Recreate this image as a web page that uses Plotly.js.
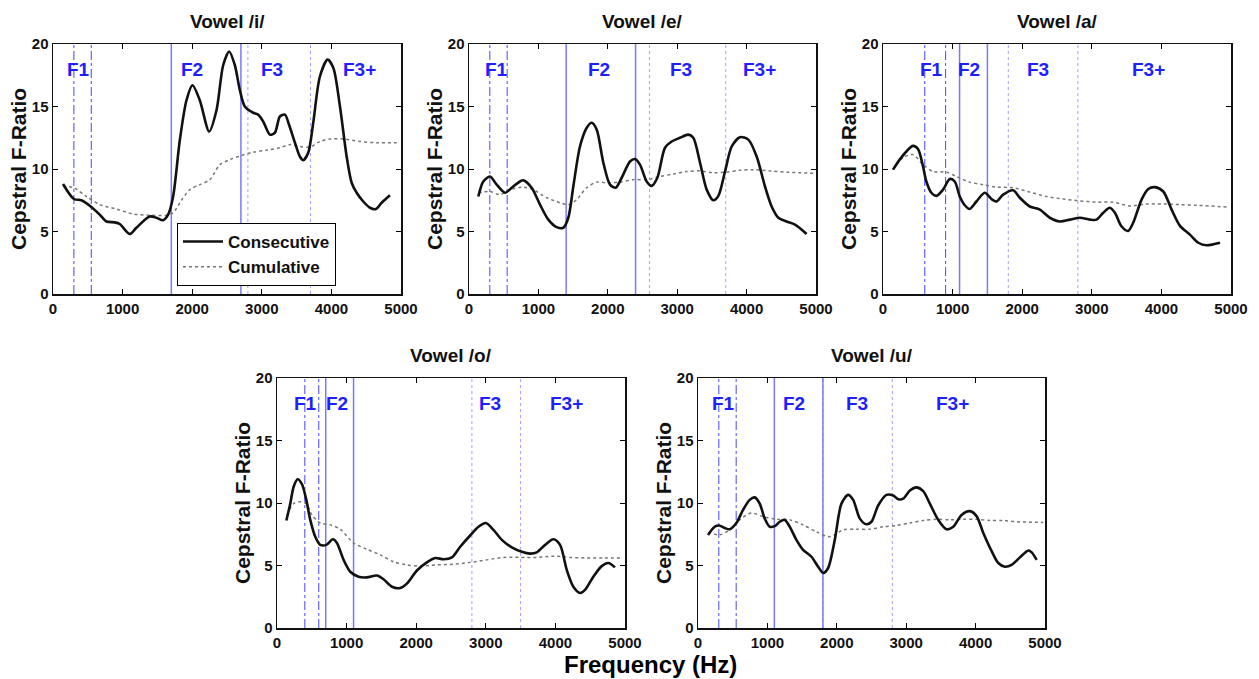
<!DOCTYPE html>
<html>
<head>
<meta charset="utf-8">
<script src="https://cdn.plot.ly/plotly-3.0.1.min.js"></script>
<style>html,body{margin:0;padding:0;background:#fff;}#chart{width:1259px;height:679px;}</style>
</head>
<body>
<div id="chart"></div>
<script>
// ---------- data ----------
const vowels = ["Vowel /i/", "Vowel /e/", "Vowel /a/", "Vowel /o/", "Vowel /u/"];
const bandLabels = ["F1", "F2", "F3", "F3+"];

// Vowel /i/
const iConsFreq = [144,300,407,542,671,767,887,959,1103,1198,1390,1486,1582,1654,1726,1822,1918,2004,2109,2244,2349,2445,2531,2613,2685,2756,2876,2948,3020,3116,3188,3260,3332,3394,3476,3547,3595,3667,3739,3835,3945,4027,4123,4219,4291,4363,4458,4554,4640,4722,4842];
const iConsRatio = [8.8,7.6,7.5,7.0,6.35,5.8,5.73,5.6,4.8,5.3,6.2,6.1,5.9,6.35,7.8,12.3,15.5,16.7,15.5,13.0,14.7,18.3,19.4,18.3,16.3,15.0,14.5,14.35,13.8,12.75,12.9,14.2,14.35,13.5,12.1,11.0,10.7,11.3,13.7,17.4,18.75,18.1,15.0,11.0,8.9,8.1,7.4,6.9,6.8,7.3,7.9];
const iCumFreq = [144,300,479,671,911,1151,1390,1630,1726,1846,1966,2109,2253,2397,2541,2685,2876,3068,3260,3404,3547,3691,3835,3979,4171,4410,4650,4938];
const iCumRatio = [8.6,8.5,7.8,7.15,6.8,6.4,6.3,6.3,6.5,7.5,8.35,8.75,9.15,10.35,10.75,11.05,11.35,11.5,11.7,11.95,11.8,11.75,12.2,12.4,12.4,12.2,12.1,12.1];

// Vowel /e/
const eConsFreq = [134,206,303,399,519,615,735,783,903,1023,1143,1263,1359,1431,1503,1599,1696,1768,1840,1936,2032,2113,2200,2320,2392,2464,2560,2632,2714,2824,2920,3040,3160,3232,3329,3425,3521,3593,3689,3785,3905,4025,4145,4265,4361,4457,4577,4697,4865];
const eConsRatio = [7.8,9.0,9.4,8.75,8.1,8.5,9.0,9.1,8.5,7.15,5.95,5.35,5.3,6.1,8.6,11.8,13.3,13.7,13.15,10.5,8.75,8.5,9.3,10.6,10.8,10.35,9.0,8.65,9.3,11.7,12.2,12.5,12.75,12.5,10.5,8.35,7.5,7.85,9.8,11.8,12.55,12.35,11.0,8.6,7.0,6.1,5.8,5.55,4.8];
const eCumFreq = [134,303,447,591,783,927,1119,1311,1431,1551,1696,1840,1984,2176,2368,2560,2752,2944,3136,3329,3521,3713,3905,4097,4337,4577,4986];
const eCumRatio = [8.1,8.2,7.95,8.35,8.55,8.35,7.7,7.3,7.15,7.55,8.5,8.95,8.9,8.95,9.15,9.15,9.4,9.6,9.8,9.85,9.7,9.75,9.9,9.95,9.85,9.75,9.65];

// Vowel /a/
const aConsFreq = [144,240,336,431,503,575,623,695,767,863,959,1031,1103,1175,1246,1342,1462,1558,1630,1726,1870,1966,2109,2253,2397,2541,2685,2829,2972,3068,3164,3260,3332,3428,3523,3595,3715,3811,3907,4027,4147,4267,4410,4530,4650,4842];
const aConsRatio = [9.95,10.75,11.4,11.85,11.6,10.2,9.0,8.1,7.85,8.35,9.2,9.0,7.8,7.1,6.8,7.4,8.1,7.6,7.4,7.95,8.3,7.7,7.0,6.75,6.1,5.8,5.95,6.1,5.95,5.95,6.5,6.9,6.5,5.4,5.05,5.7,7.55,8.4,8.55,8.2,6.75,5.45,4.75,4.1,3.9,4.1];
const aCumFreq = [144,288,431,575,719,911,1055,1246,1438,1630,1870,2109,2349,2589,2829,3068,3308,3547,3787,4027,4267,4506,4962];
const aCumRatio = [9.95,10.9,11.15,10.35,9.8,9.75,9.4,8.95,8.75,8.55,8.5,8.15,7.8,7.6,7.45,7.35,7.35,7.05,7.2,7.2,7.15,7.1,6.95];

// Vowel /o/
const oConsFreq = [134,191,239,297,359,421,478,550,622,708,804,861,957,1053,1172,1292,1435,1531,1651,1770,1866,2010,2153,2273,2392,2512,2632,2775,2895,3000,3110,3230,3373,3517,3636,3732,3852,3971,4067,4163,4258,4354,4426,4545,4665,4761,4856];
const oConsRatio = [8.6,9.95,11.3,11.9,11.5,10.25,8.65,7.3,6.65,6.65,7.1,6.8,5.45,4.5,4.1,4.05,4.2,3.9,3.3,3.2,3.55,4.6,5.25,5.6,5.5,5.65,6.5,7.4,8.1,8.4,7.85,7.05,6.45,6.1,5.95,6.05,6.65,7.1,6.65,4.65,3.3,2.8,3.05,4.1,4.95,5.2,4.85];
const oCumFreq = [144,239,335,421,502,622,766,909,1100,1292,1483,1675,1866,2057,2297,2536,2775,3014,3254,3493,3732,3971,4211,4450,4689,4928];
const oCumRatio = [9.05,9.95,10.1,9.95,9.05,8.4,8.25,7.9,6.8,6.3,5.85,5.3,5.05,4.95,5.05,5.1,5.25,5.45,5.65,5.65,5.65,5.75,5.65,5.6,5.6,5.6];

// Vowel /u/
const uConsFreq = [144,240,303,385,457,553,649,745,817,889,962,1034,1106,1178,1250,1322,1418,1514,1635,1731,1803,1875,1971,2067,2163,2236,2332,2428,2500,2596,2716,2813,2885,2957,3053,3149,3245,3341,3462,3582,3678,3798,3918,4014,4111,4231,4327,4423,4519,4639,4760,4808,4880];
const uConsRatio = [7.45,8.1,8.2,8.0,7.9,8.4,9.45,10.25,10.45,9.95,8.75,8.1,8.15,8.5,8.65,8.1,7.05,6.25,5.7,4.9,4.4,4.8,7.05,9.95,10.65,10.25,8.75,8.3,8.5,9.8,10.65,10.6,10.3,10.35,11.0,11.25,10.95,9.95,8.65,7.9,8.1,9.05,9.35,8.95,7.6,6.15,5.2,4.9,5.05,5.65,6.2,6.05,5.45];
const uCumFreq = [144,313,457,601,769,938,1130,1322,1514,1707,1899,2091,2284,2476,2668,2861,3053,3245,3438,3630,3822,4014,4207,4399,4591,4976];
const uCumRatio = [7.65,7.45,7.85,8.65,9.2,8.9,8.7,8.65,8.25,7.7,7.3,7.85,7.9,7.9,8.1,8.2,8.4,8.6,8.7,8.65,8.7,8.7,8.6,8.6,8.5,8.45];

// Formant band boundaries (Hz): F1 (dash-dot), F2 (solid), F3 (dotted)
const f1Bounds = [[300,550],[300,550],[600,900],[400,600],[300,550]];
const f2Bounds = [[1700,2700],[1400,2400],[1100,1500],[700,1100],[1100,1800]];
const f3Bounds = [[2800,3700],[2600,3700],[1800,2800],[2800,3500],[1800,2800]];
// Band label x positions (Hz) and label height (F-ratio)
const bandLabelFreq = [[370,2000,3150,4400],[390,1870,3060,4190],[695,1230,2220,3820],[415,856,3060,4160],[370,1380,2285,3670]];
const bandLabelRatio = 18;

const consFreq = [iConsFreq,eConsFreq,aConsFreq,oConsFreq,uConsFreq];
const consRatio = [iConsRatio,eConsRatio,aConsRatio,oConsRatio,uConsRatio];
const cumFreq = [iCumFreq,eCumFreq,aCumFreq,oCumFreq,uCumFreq];
const cumRatio = [iCumRatio,eCumRatio,aCumRatio,oCumRatio,uCumRatio];

// ---------- layout ----------
const W = 1259, H = 679;
// pixel boxes [left, right, top, bottom]
const boxes = [[53,401,44,294],[469,816,44,294],[883,1231,44,294],[277,625,378,628],[698,1045,378,628]];
const FONT = "Liberation Sans, Arial, Helvetica, sans-serif";
const blue = "rgb(30,30,255)";

const traces = [];
const layout = {
  width: W, height: H,
  margin: {l:0, r:0, t:0, b:0},
  paper_bgcolor: "#fff", plot_bgcolor: "#fff",
  showlegend: true,
  legend: {x: 177/W, y: 1-223/H, xanchor: "left", yanchor: "top",
    bordercolor: "#000", borderwidth: 1, bgcolor: "#fff",
    font: {family: FONT, size: 17, weight: "bold", color: "#111"},
    itemwidth: 40, tracegroupgap: 0},
  shapes: [], annotations: []
};

boxes.forEach((b, k) => {
  const n = k + 1;
  const xa = "xaxis" + (k ? n : ""), ya = "yaxis" + (k ? n : "");
  const xr = "x" + (k ? n : ""), yr = "y" + (k ? n : "");
  const common = {ticks: "inside", ticklen: 5, tickwidth: 1, tickcolor: "#000",
    showline: true, linecolor: "#111", linewidth: 1.5, mirror: "ticks",
    showgrid: false, zeroline: false, fixedrange: true,
    tickfont: {family: FONT, size: 15, weight: "bold", color: "#111"}};
  layout[xa] = Object.assign({}, common, {domain: [b[0]/W, b[1]/W], anchor: yr,
    range: [0, 5000], tick0: 0, dtick: 1000});
  layout[ya] = Object.assign({}, common, {domain: [1-b[3]/H, 1-b[2]/H], anchor: xr,
    range: [0, 20], tick0: 0, dtick: 5});

  // formant boundary lines
  const vline = (x, dash, color, width) => layout.shapes.push({type: "line", xref: xr, yref: yr + " domain",
    x0: x, x1: x, y0: 0, y1: 1, line: {color: color, width: width, dash: dash}, layer: "below"});
  f3Bounds[k].forEach(x => vline(x, "dot", "rgb(160,160,255)", 1));
  f1Bounds[k].forEach(x => vline(x, "dashdot", "rgb(70,70,255)", 1));
  f2Bounds[k].forEach(x => vline(x, "solid", "rgb(120,120,255)", 1.5));

  // band labels
  bandLabels.forEach((t, j) => layout.annotations.push({xref: xr, yref: yr, x: bandLabelFreq[k][j], y: bandLabelRatio,
    text: t, showarrow: false, font: {family: FONT, size: 19, weight: "bold", color: blue}}));

  // title
  layout.annotations.push({xref: "paper", yref: "paper", x: (b[0]+b[1])/2/W, y: 1-(b[2]-22.6)/H,
    text: vowels[k], showarrow: false, xanchor: "center", yanchor: "middle",
    font: {family: FONT, size: 19, weight: "bold", color: "#111"}});
  // y axis title
  layout.annotations.push({xref: "paper", yref: "paper", x: (b[0]-35)/W, y: 1-((b[2]+b[3])/2)/H,
    text: "Cepstral F-Ratio", textangle: -90, showarrow: false, xanchor: "center", yanchor: "middle",
    font: {family: FONT, size: 21, weight: "bold", color: "#111"}});

  traces.push({type: "scatter", mode: "lines", x: cumFreq[k], y: cumRatio[k], xaxis: xr, yaxis: yr,
    name: "Cumulative", showlegend: false, legendrank: 2,
    line: {color: "#777", width: 1.5, dash: "dot", shape: "spline", smoothing: 0.8}, hoverinfo: "skip"});
  traces.push({type: "scatter", mode: "lines", x: consFreq[k], y: consRatio[k], xaxis: xr, yaxis: yr,
    name: "Consecutive", showlegend: k === 0, legendrank: 1,
    line: {color: "#111", width: 2.6, shape: "spline", smoothing: 0.8}, hoverinfo: "skip"});
});
// legend entry for cumulative (first subplot)
traces[0].showlegend = true;

layout.annotations.push({xref: "paper", yref: "paper", x: 650/W, y: 1-664/H,
  text: "Frequency (Hz)", showarrow: false, xanchor: "center", yanchor: "middle",
  font: {family: FONT, size: 24, weight: "bold", color: "#000"}});

Plotly.newPlot("chart", traces, layout, {displayModeBar: false, staticPlot: true});
</script>
</body>
</html>
